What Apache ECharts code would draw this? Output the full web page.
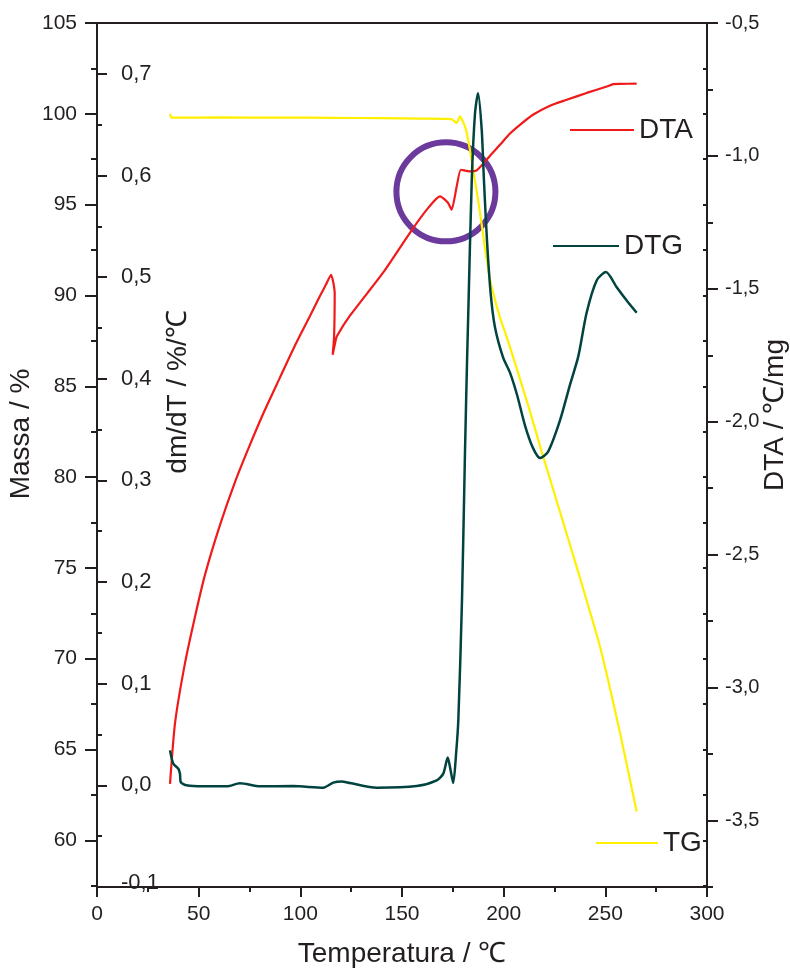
<!DOCTYPE html>
<html>
<head>
<meta charset="utf-8">
<title>TG / DTG / DTA</title>
<script src="https://cdn.jsdelivr.net/npm/echarts@6/dist/echarts.min.js"></script>
<style>
  html, body { margin: 0; padding: 0; background: #fff; }
  #chart { width: 790px; height: 974px; }
</style>
</head>
<body>
<div id="chart"></div>
<script>
// TG (massa, %)
const tgTemp = [35.9, 36.6, 60, 90, 116, 140, 160, 174.4, 176.9, 178.5, 180.0, 181.5, 183.4, 185.4, 187.4, 189.4, 191.3, 193.3, 195.7, 198.2, 201.6, 204.6, 213.0, 218.4, 227.7, 237.5, 247.4, 257.2, 265.4];
const tgMass = [100.0, 99.79, 99.80, 99.79, 99.78, 99.76, 99.74, 99.71, 99.49, 99.86, 99.57, 99.12, 98.02, 96.65, 95.27, 93.73, 92.24, 90.87, 89.77, 88.78, 87.68, 86.63, 83.60, 81.51, 78.09, 74.46, 70.66, 65.93, 61.59];

// DTA (°C/mg)
const dtaTemp = [35.9, 38.4, 43.3, 48.2, 53.1, 60.5, 67.9, 75.2, 82.6, 89.9, 97.3, 104.8, 109.7, 112.6, 115.1, 116.9, 116.6, 115.9, 117.2, 117.9, 124.4, 140.7, 153.9, 162.2, 168.7, 172.6, 174.4, 176.9, 179.0, 183.4, 186.4, 188.2, 193.3, 198.2, 203.1, 208.0, 214.4, 222.8, 231.0, 240.8, 250.7, 253.9, 257.2, 265.4];
const dtaVal = [-3.362, -3.132, -2.907, -2.733, -2.576, -2.388, -2.226, -2.087, -1.955, -1.835, -1.714, -1.601, -1.526, -1.484, -1.447, -1.515, -1.679, -1.748, -1.70, -1.679, -1.601, -1.439, -1.289, -1.202, -1.152, -1.176, -1.202, -1.115, -1.052, -1.058, -1.056, -1.044, -0.999, -0.958, -0.916, -0.883, -0.845, -0.811, -0.789, -0.763, -0.739, -0.730, -0.729, -0.728];

// DTG (dm/dT, %/°C)
const dtgTemp = [35.9, 37.5, 40.0, 40.8, 41.2, 44.1, 52.3, 63.8, 70.3, 80.2, 96.5, 111.3, 116.2, 120.3, 124.4, 137.6, 157.2, 167.1, 170.3, 172.5, 173.6, 175.2, 176.6, 177.7, 179.5, 181.0, 182.0, 182.6, 184.3, 185.9, 187.4, 189.2, 190.3, 191.8, 193.6, 195.7, 199.7, 203.1, 206.6, 210.5, 214.4, 217.9, 221.8, 227.7, 232.6, 236.7, 240.8, 245.8, 250.3, 255.6, 260.5, 265.4];
const dtgVal = [0.0344, 0.0214, 0.0164, 0.0115, 0.0032, 0.0, -0.001, -0.001, 0.002, -0.001, -0.0007, -0.0023, 0.0027, 0.0039, 0.0023, -0.0023, -0.0007, 0.0049, 0.0115, 0.0273, 0.018, 0.0023, 0.0312, 0.064, 0.182, 0.330, 0.418, 0.465, 0.595, 0.661, 0.681, 0.645, 0.595, 0.536, 0.484, 0.451, 0.421, 0.406, 0.384, 0.354, 0.332, 0.322, 0.328, 0.359, 0.394, 0.422, 0.465, 0.497, 0.505, 0.490, 0.477, 0.465];

// highlighted region (circle), in temperature / DTA units
const markTemp = [171.6];
const markDta = [-1.135];

// tick labels
const massaTicks = [60, 65, 70, 75, 80, 85, 90, 95, 100, 105];
const massaMinor = [57.5, 62.5, 67.5, 72.5, 77.5, 82.5, 87.5, 92.5, 97.5, 102.5];
const massaMirror = [57.5, 60, 62.5, 65, 67.5, 70, 72.5, 75, 77.5, 80, 82.5, 85, 87.5, 90, 92.5, 95, 97.5, 100, 102.5];
const dmdtTicks = [-0.1, 0, 0.1, 0.2, 0.3, 0.4, 0.5, 0.6, 0.7];
const dmdtMinor = [-0.05, 0.05, 0.15, 0.25, 0.35, 0.45, 0.55, 0.65];
const dtaTicks = [-3.5, -3.0, -2.5, -2.0, -1.5, -1.0, -0.5];
const dtaMinor = [-3.75, -3.25, -2.75, -2.25, -1.75, -1.25, -0.75];

const zip = (a, b) => a.map((v, i) => [v, b[i]]);
const comma = v => v.toFixed(1).replace('.', ',');

const FONT = 'Liberation Sans, Arial, sans-serif';
const INK = '#231f20';

const myChart = echarts.init(document.getElementById('chart'), null, { renderer: 'canvas' });

function legendItem(name, left, top, width) {
  return {
    data: [name],
    left: left,
    top: top,
    icon: 'rect',
    itemWidth: width,
    itemHeight: 2,
    padding: 0,
    selectedMode: false,
    textStyle: { fontFamily: FONT, fontSize: 28, color: INK }
  };
}

// axis used only to draw an extra set of ticks
function tickAxis(pos, min, max, values, inside, len) {
  return {
    type: 'value',
    position: pos,
    min: min,
    max: max,
    axisLine: { show: false },
    axisTick: { show: true, inside: inside, length: len, customValues: values, lineStyle: { color: INK, width: 2 } },
    axisLabel: { show: false },
    splitLine: { show: false }
  };
}

let option = {
  animation: false,
  backgroundColor: '#fff',
  grid: { left: 97, right: 83, top: 23, bottom: 87, containLabel: false, outerBoundsMode: 'none' },
  legend: [
    legendItem('DTA', 570, 116, 64),
    legendItem('DTG', 553, 232, 66),
    legendItem('TG', 596, 829, 62)
  ],
  xAxis: [
    {
      type: 'value',
      position: 'bottom',
      min: 0,
      max: 300,
      interval: 50,
      name: 'Temperatura / ℃',
      nameLocation: 'middle',
      nameGap: 53,
      nameTextStyle: { fontFamily: FONT, fontSize: 28, color: INK },
      axisLine: { onZero: false, lineStyle: { color: INK, width: 2 } },
      axisTick: { length: 10, lineStyle: { color: INK, width: 2 } },
      minorTick: { show: true, splitNumber: 2, length: 5, lineStyle: { color: INK, width: 2 } },
      axisLabel: { margin: 17, fontFamily: FONT, fontSize: 21, color: INK },
      splitLine: { show: false }
    },
    {
      type: 'value',
      position: 'top',
      min: 0,
      max: 300,
      axisLine: { onZero: false, lineStyle: { color: INK, width: 2 } },
      axisTick: { show: false },
      axisLabel: { show: false },
      splitLine: { show: false }
    }
  ],
  yAxis: [
    {
      type: 'value',
      position: 'left',
      min: 57.43,
      max: 105,
      name: 'Massa / %',
      nameLocation: 'middle',
      nameGap: 62,
      nameMoveOverlap: false,
      nameTextStyle: { fontFamily: FONT, fontSize: 28, color: INK, padding: [0, 0, 0, 42] },
      axisLine: { show: true, onZero: false, lineStyle: { color: INK, width: 2 } },
      axisTick: { show: true, length: 12, customValues: massaTicks, lineStyle: { color: INK, width: 2 } },
      axisLabel: { margin: 20, fontFamily: FONT, fontSize: 21, color: INK, customValues: massaTicks },
      splitLine: { show: false }
    },
    tickAxis('left', 57.43, 105, massaMinor, false, 6),
    {
      type: 'value',
      position: 'left',
      min: -0.1,
      max: 0.75,
      name: 'dm/dT / %/℃',
      nameLocation: 'middle',
      nameGap: -95,
      nameMoveOverlap: false,
      nameTextStyle: { fontFamily: FONT, fontSize: 28, color: INK, padding: [0, 0, 0, 126] },
      axisLine: { show: false },
      axisTick: { show: true, inside: true, length: 10, customValues: dmdtTicks, lineStyle: { color: INK, width: 2 } },
      axisLabel: {
        inside: true,
        margin: 24,
        fontFamily: FONT,
        fontSize: 22,
        color: INK,
        customValues: dmdtTicks,
        // the lowest label sits a little above the bottom frame
        formatter: v => (v < -0.05 ? '{low|' + comma(v) + '}' : comma(v)),
        rich: { low: { fontFamily: FONT, fontSize: 22, color: INK, padding: [0, 0, 8, 0] } }
      },
      splitLine: { show: false }
    },
    tickAxis('left', -0.1, 0.75, dmdtMinor, true, 5),
    {
      type: 'value',
      position: 'right',
      min: -3.75,
      max: -0.5,
      name: 'DTA / ℃/mg',
      nameLocation: 'middle',
      nameGap: 54,
      nameMoveOverlap: false,
      nameTextStyle: { fontFamily: FONT, fontSize: 28, color: INK, padding: [0, 0, 0, 80] },
      axisLine: { show: true, onZero: false, lineStyle: { color: INK, width: 2 } },
      axisTick: { show: true, length: 11, customValues: dtaTicks, lineStyle: { color: INK, width: 2 } },
      axisLabel: { margin: 18, fontFamily: FONT, fontSize: 20, color: INK, customValues: dtaTicks, formatter: comma },
      splitLine: { show: false }
    },
    tickAxis('right', -3.75, -0.5, dtaMinor, false, 6),
    // small mirrored Massa ticks on the right frame
    tickAxis('right', 57.43, 105, massaMirror, true, 4)
  ],
  series: [
    {
      name: 'TG',
      type: 'line',
      xAxisIndex: 0,
      yAxisIndex: 0,
      color: '#fff000',
      showSymbol: false,
      smooth: 0.15,
      lineStyle: { width: 2.2 },
      data: zip(tgTemp, tgMass)
    },
    {
      name: 'DTA',
      type: 'line',
      xAxisIndex: 0,
      yAxisIndex: 4,
      color: '#f01a1a',
      showSymbol: false,
      smooth: 0.2,
      lineStyle: { width: 2.2 },
      data: zip(dtaTemp, dtaVal)
    },
    {
      name: 'DTG',
      type: 'line',
      xAxisIndex: 0,
      yAxisIndex: 2,
      color: '#00433f',
      showSymbol: false,
      smooth: 0.25,
      lineStyle: { width: 2.5 },
      data: zip(dtgTemp, dtgVal)
    },
    {
      name: 'region',
      type: 'scatter',
      xAxisIndex: 0,
      yAxisIndex: 4,
      silent: true,
      symbol: 'circle',
      symbolSize: 99,
      itemStyle: { color: 'rgba(0,0,0,0)', borderColor: '#6b3a9c', borderWidth: 6, opacity: 1 },
      data: zip(markTemp, markDta)
    }
  ]
};

myChart.setOption(option);
</script>
</body>
</html>
